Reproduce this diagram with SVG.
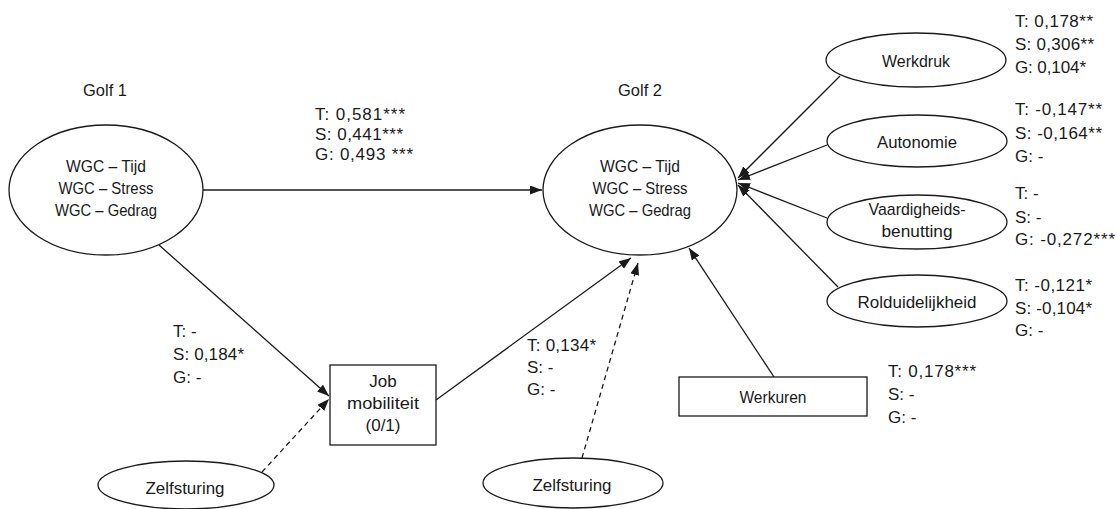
<svg xmlns="http://www.w3.org/2000/svg" width="1116" height="509" viewBox="0 0 1116 509">
<style>
  .node { fill: #ffffff; stroke: #1a1a1a; stroke-width: 1.3; }
  .t { font-family: "Liberation Sans", Arial, sans-serif; font-size: 17px; fill: #1a1a1a; text-anchor: middle; }
  .lbl { font-family: "Liberation Sans", Arial, sans-serif; font-size: 17px; fill: #1a1a1a; }
  .edge { stroke: #1a1a1a; stroke-width: 1.3; fill: none; marker-end: url(#arr); }
  .dash { stroke-dasharray: 5,4; }
</style>
<defs>
  <marker id="arr" markerUnits="userSpaceOnUse" markerWidth="13" markerHeight="10" refX="12" refY="4.5" orient="auto">
    <path d="M0,0 L12,4.5 L0,9 z" fill="#1a1a1a"/>
  </marker>
</defs>
<rect width="1116" height="509" fill="#ffffff"/>

<g id="connectors">
  <line class="edge" x1="203" y1="190" x2="542" y2="190"/>
  <line class="edge" x1="159" y1="245" x2="329" y2="396"/>
  <line class="edge dash" x1="262" y1="472" x2="329" y2="399"/>
  <line class="edge" x1="436" y1="400" x2="631" y2="258"/>
  <line class="edge dash" x1="582" y1="458" x2="638" y2="263"/>
  <line class="edge" x1="774" y1="377" x2="689" y2="248"/>
  <line class="edge" x1="840" y1="76" x2="738" y2="178"/>
  <line class="edge" x1="827" y1="145" x2="738" y2="180"/>
  <line class="edge" x1="827" y1="218" x2="738" y2="183"/>
  <line class="edge" x1="838" y1="287" x2="738" y2="185"/>
</g>

<g id="golf1-label"><text class="t" x="105" y="96" textLength="44" lengthAdjust="spacingAndGlyphs">Golf 1</text></g>
<g id="golf2-label"><text class="t" x="640" y="96" textLength="44" lengthAdjust="spacingAndGlyphs">Golf 2</text></g>

<g id="wgc1">
  <ellipse class="node" cx="106" cy="190" rx="97" ry="65"/>
  <text class="t" x="106" y="172" textLength="80" lengthAdjust="spacingAndGlyphs">WGC – Tijd</text>
  <text class="t" x="106" y="194" textLength="95" lengthAdjust="spacingAndGlyphs">WGC – Stress</text>
  <text class="t" x="106" y="216" textLength="102" lengthAdjust="spacingAndGlyphs">WGC – Gedrag</text>
</g>

<g id="wgc2">
  <ellipse class="node" cx="640" cy="190" rx="97" ry="65"/>
  <text class="t" x="640" y="172" textLength="80" lengthAdjust="spacingAndGlyphs">WGC – Tijd</text>
  <text class="t" x="640" y="194" textLength="95" lengthAdjust="spacingAndGlyphs">WGC – Stress</text>
  <text class="t" x="640" y="216" textLength="102" lengthAdjust="spacingAndGlyphs">WGC – Gedrag</text>
</g>

<g id="jobmobiliteit">
  <rect class="node" x="330" y="365" width="106" height="80"/>
  <text class="t" x="383" y="387">Job</text>
  <text class="t" x="383" y="409" textLength="72" lengthAdjust="spacingAndGlyphs">mobiliteit</text>
  <text class="t" x="383" y="431">(0/1)</text>
</g>

<g id="zelfsturing1">
  <ellipse class="node" cx="186" cy="485" rx="88" ry="24"/>
  <text class="t" x="185" y="494" textLength="79" lengthAdjust="spacingAndGlyphs">Zelfsturing</text>
</g>

<g id="zelfsturing2">
  <ellipse class="node" cx="573" cy="483" rx="90" ry="25"/>
  <text class="t" x="572" y="491" textLength="79" lengthAdjust="spacingAndGlyphs">Zelfsturing</text>
</g>

<g id="werkuren">
  <rect class="node" x="679" y="377" width="188" height="39"/>
  <text class="t" x="773" y="403" textLength="67" lengthAdjust="spacingAndGlyphs">Werkuren</text>
</g>

<g id="werkdruk">
  <ellipse class="node" cx="916" cy="60" rx="90" ry="27"/>
  <text class="t" x="916" y="67" textLength="68" lengthAdjust="spacingAndGlyphs">Werkdruk</text>
</g>

<g id="autonomie">
  <ellipse class="node" cx="917" cy="141" rx="90" ry="26"/>
  <text class="t" x="917" y="148" textLength="80" lengthAdjust="spacingAndGlyphs">Autonomie</text>
</g>

<g id="vaardigheidsbenutting">
  <ellipse class="node" cx="917" cy="222" rx="90" ry="27"/>
  <text class="t" x="917" y="215" textLength="97" lengthAdjust="spacingAndGlyphs">Vaardigheids-</text>
  <text class="t" x="917" y="237" textLength="71" lengthAdjust="spacingAndGlyphs">benutting</text>
</g>

<g id="rolduidelijkheid">
  <ellipse class="node" cx="917" cy="301" rx="90" ry="26"/>
  <text class="t" x="917" y="308" textLength="119" lengthAdjust="spacingAndGlyphs">Rolduidelijkheid</text>
</g>

<g id="labels">
  <text class="lbl" x="315" y="120" textLength="90">T: 0,581***</text>
  <text class="lbl" x="315" y="140" textLength="88">S: 0,441***</text>
  <text class="lbl" x="315" y="160" textLength="98">G: 0,493 ***</text>

  <text class="lbl" x="173" y="337">T: -</text>
  <text class="lbl" x="173" y="360" textLength="71">S: 0,184*</text>
  <text class="lbl" x="173" y="383">G: -</text>

  <text class="lbl" x="527" y="351" textLength="69">T: 0,134*</text>
  <text class="lbl" x="527" y="373">S: -</text>
  <text class="lbl" x="527" y="395">G: -</text>

  <text class="lbl" x="888" y="377" textLength="88">T: 0,178***</text>
  <text class="lbl" x="888" y="400">S: -</text>
  <text class="lbl" x="888" y="423">G: -</text>

  <text class="lbl" x="1015" y="27" textLength="78">T: 0,178**</text>
  <text class="lbl" x="1015" y="50" textLength="79">S: 0,306**</text>
  <text class="lbl" x="1015" y="73" textLength="71">G: 0,104*</text>

  <text class="lbl" x="1015" y="115" textLength="87">T: -0,147**</text>
  <text class="lbl" x="1015" y="139" textLength="87">S: -0,164**</text>
  <text class="lbl" x="1015" y="162">G: -</text>

  <text class="lbl" x="1015" y="199">T: -</text>
  <text class="lbl" x="1015" y="223">S: -</text>
  <text class="lbl" x="1015" y="245" textLength="100">G: -0,272***</text>

  <text class="lbl" x="1015" y="291" textLength="77">T: -0,121*</text>
  <text class="lbl" x="1015" y="314" textLength="77">S: -0,104*</text>
  <text class="lbl" x="1015" y="336">G: -</text>
</g>
</svg>
